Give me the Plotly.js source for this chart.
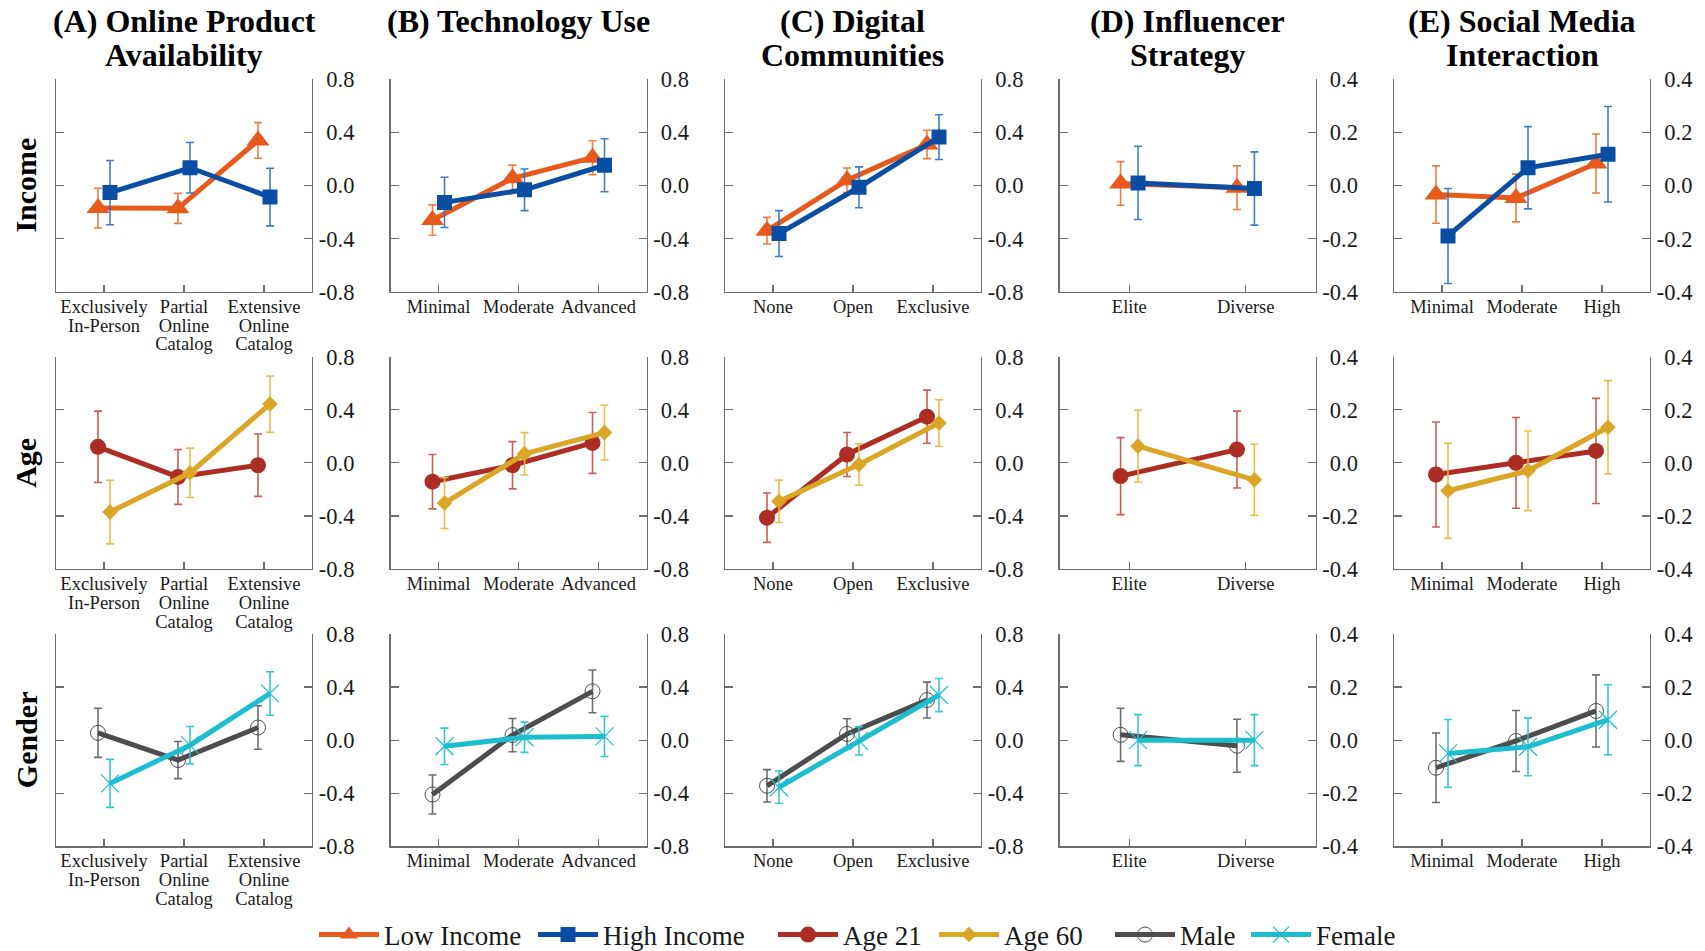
<!DOCTYPE html>
<html><head><meta charset="utf-8">
<script src="https://cdn.plot.ly/plotly-3.0.1.min.js"></script>
<style>html,body{margin:0;padding:0;background:#fff}</style>
</head><body><div id="chart" style="width:1705px;height:951px"></div>
<script>
// ---------------- DATA ----------------
const catsA = ['Exclusively<br>In-Person', 'Partial<br>Online<br>Catalog', 'Extensive<br>Online<br>Catalog'];
const catsB = ['Minimal', 'Moderate', 'Advanced'];
const catsC = ['None', 'Open', 'Exclusive'];
const catsD = ['Elite', 'Diverse'];
const catsE = ['Minimal', 'Moderate', 'High'];

const panelTitles = [['(A) Online Product', 'Availability'], ['(B) Technology Use'], ['(C) Digital', 'Communities'], ['(D) Influencer', 'Strategy'], ['(E) Social Media', 'Interaction']];
const rowLabels = ['Income', 'Age', 'Gender'];

const yTickValsWide = [-0.8, -0.4, 0, 0.4, 0.8];
const yTickTextWide = ['-0.8', '-0.4', '\u20040.0', '\u20040.4', '\u20040.8'];
const yTickValsNarrow = [-0.4, -0.2, 0, 0.2, 0.4];
const yTickTextNarrow = ['-0.4', '-0.2', '\u20040.0', '\u20040.2', '\u20040.4'];

// Income row
const A_low = [-0.17, -0.172, 0.34];   const A_lowErr = [0.15, 0.113, 0.134];
const A_high = [-0.053, 0.134, -0.087]; const A_highErr = [0.242, 0.19, 0.217];
const B_low = [-0.26, 0.055, 0.21];    const B_lowErr = [0.114, 0.099, 0.128];
const B_high = [-0.127, -0.032, 0.153]; const B_highErr = [0.189, 0.157, 0.2];
const C_low = [-0.34, 0.04, 0.31];     const C_lowErr = [0.1, 0.092, 0.107];
const C_high = [-0.362, -0.013, 0.365]; const C_highErr = [0.173, 0.154, 0.169];
const D_low = [0.008, -0.008];         const D_lowErr = [0.082, 0.082];
const D_high = [0.01, -0.011];         const D_highErr = [0.138, 0.138];
const E_low = [-0.034, -0.047, 0.083]; const E_lowErr = [0.108, 0.09, 0.111];
const E_high = [-0.19, 0.067, 0.118];  const E_highErr = [0.179, 0.155, 0.18];

// Age row
const A_age21 = [0.121, -0.106, -0.018]; const A_age21Err = [0.269, 0.207, 0.235];
const A_age60 = [-0.371, -0.075, 0.443]; const A_age60Err = [0.24, 0.186, 0.212];
const B_age21 = [-0.142, -0.018, 0.15];  const B_age21Err = [0.205, 0.178, 0.229];
const B_age60 = [-0.303, 0.068, 0.228];  const B_age60Err = [0.192, 0.16, 0.206];
const C_age21 = [-0.413, 0.063, 0.348];  const C_age21Err = [0.186, 0.166, 0.2];
const C_age60 = [-0.29, -0.013, 0.3];    const C_age60Err = [0.16, 0.156, 0.175];
const D_age21 = [-0.05, 0.05];           const D_age21Err = [0.145, 0.145];
const D_age60 = [0.063, -0.064];         const D_age60Err = [0.135, 0.134];
const E_age21 = [-0.044, 0.0, 0.045];    const E_age21Err = [0.198, 0.171, 0.198];
const E_age60 = [-0.105, -0.03, 0.134];  const E_age60Err = [0.179, 0.15, 0.176];

// Gender row
const A_male = [0.055, -0.15, 0.095];     const A_maleErr = [0.185, 0.14, 0.164];
const A_female = [-0.326, -0.038, 0.352]; const A_femaleErr = [0.181, 0.141, 0.164];
const B_male = [-0.41, 0.038, 0.368];     const B_maleErr = [0.147, 0.125, 0.161];
const B_female = [-0.046, 0.022, 0.028];  const B_femaleErr = [0.137, 0.114, 0.151];
const C_male = [-0.344, 0.047, 0.302];    const C_maleErr = [0.122, 0.114, 0.135];
const C_female = [-0.355, -0.005, 0.34];  const C_femaleErr = [0.122, 0.107, 0.125];
const D_male = [0.02, -0.021];            const D_maleErr = [0.1, 0.1];
const D_female = [0.0, 0.0];              const D_femaleErr = [0.096, 0.096];
const E_male = [-0.104, -0.003, 0.11];    const E_maleErr = [0.131, 0.115, 0.136];
const E_female = [-0.05, -0.025, 0.077];  const E_femaleErr = [0.128, 0.109, 0.132];

// ---------------- STRUCTURE ----------------
const cats = [catsA, catsB, catsC, catsD, catsE];
const narrow = [false, false, false, true, true];
const rows = [
  [ [[A_low, A_lowErr], [A_high, A_highErr]], [[B_low, B_lowErr], [B_high, B_highErr]], [[C_low, C_lowErr], [C_high, C_highErr]], [[D_low, D_lowErr], [D_high, D_highErr]], [[E_low, E_lowErr], [E_high, E_highErr]] ],
  [ [[A_age21, A_age21Err], [A_age60, A_age60Err]], [[B_age21, B_age21Err], [B_age60, B_age60Err]], [[C_age21, C_age21Err], [C_age60, C_age60Err]], [[D_age21, D_age21Err], [D_age60, D_age60Err]], [[E_age21, E_age21Err], [E_age60, E_age60Err]] ],
  [ [[A_male, A_maleErr], [A_female, A_femaleErr]], [[B_male, B_maleErr], [B_female, B_femaleErr]], [[C_male, C_maleErr], [C_female, C_femaleErr]], [[D_male, D_maleErr], [D_female, D_femaleErr]], [[E_male, E_maleErr], [E_female, E_femaleErr]] ]
];
const styles = [
  [ {name: 'Low Income', color: '#E8591C', err: 'rgba(236,110,50,0.9)', symbol: 'triangle-up', size: 20, mline: 0},
    {name: 'High Income', color: '#0A4EA3', err: 'rgba(45,110,195,0.9)', symbol: 'square', size: 15, mline: 0} ],
  [ {name: 'Age 21', color: '#AC2D24', err: 'rgba(195,75,70,0.9)', symbol: 'circle', size: 16, mline: 0},
    {name: 'Age 60', color: '#DBA526', err: 'rgba(230,185,65,0.95)', symbol: 'diamond', size: 12, mline: 0} ],
  [ {name: 'Male', color: '#4D4D4D', err: 'rgba(100,100,100,0.95)', symbol: 'circle-open', size: 15, mline: 1},
    {name: 'Female', color: '#1DBDD0', err: 'rgba(40,195,212,0.95)', symbol: 'x-thin-open', size: 18, mline: 1.2} ]
];
const dodge = 0.075;

// ---------------- LAYOUT GEOMETRY ----------------
const W = 1705, H = 951;
const colLeft = [56, 390.5, 725, 1059.5, 1394];
const colW = 256;
const rowTop = [79.4, 356.7, 634];
const rowH = 212.3;
const legendX = [314, 533, 773, 934, 1110, 1246];
const legendYpx = 935;
const xLabelSize = 18.5, xLineBase = 14.6;

const traces = [];
const layout = {
  width: W, height: H,
  margin: {l: 0, r: 0, t: 0, b: 0, autoexpand: false},
  paper_bgcolor: '#fff', plot_bgcolor: '#fff',
  font: {family: '"Liberation Serif", "Times New Roman", serif', color: '#1a1a1a'},
  annotations: [],
  showlegend: true
};

const wrapLabel = t => t.split('<br>').map(l => '<span style="font-size:' + xLabelSize + 'px">' + l + '</span>').join('<br>');

const axisColor = '#6e6e6e';
let legendIdx = 0;
for (let r = 0; r < 3; r++) {
  for (let c = 0; c < 5; c++) {
    const k = r * 5 + c + 1;
    const xa = 'xaxis' + (k === 1 ? '' : k), ya = 'yaxis' + (k === 1 ? '' : k);
    const xr = 'x' + (k === 1 ? '' : k), yr = 'y' + (k === 1 ? '' : k);
    const n = cats[c].length;
    const idx = cats[c].map((_, i) => i);
    layout[xa] = {
      domain: [colLeft[c] / W, (colLeft[c] + colW) / W],
      anchor: yr, range: [-0.6, n - 0.4],
      tickvals: idx, ticktext: cats[c].map(wrapLabel),
      showline: true, linecolor: axisColor, linewidth: 1.3,
      ticks: 'inside', ticklen: 7, tickwidth: 1.2, tickcolor: axisColor,
      ticklabelstandoff: 2,
      showgrid: false, zeroline: false, fixedrange: true,
      tickfont: {size: xLineBase, color: '#1a1a1a'}
    };
    layout[ya] = {
      domain: [1 - (rowTop[r] + rowH) / H, 1 - rowTop[r] / H],
      anchor: xr, side: 'right',
      range: narrow[c] ? [-0.4, 0.4] : [-0.8, 0.8],
      tickvals: narrow[c] ? yTickValsNarrow : yTickValsWide,
      ticktext: narrow[c] ? yTickTextNarrow : yTickTextWide,
      showline: true, mirror: 'ticks', linecolor: axisColor, linewidth: 1.3,
      ticks: 'inside', ticklen: 8, tickwidth: 1.2, tickcolor: axisColor,
      ticklabelstandoff: 1,
      showgrid: false, zeroline: false, fixedrange: true,
      tickfont: {size: 22.5, color: '#1a1a1a'}
    };
    for (let s = 0; s < 2; s++) {
      const st = styles[r][s];
      const [vals, errs] = rows[r][c][s];
      const t = {
        type: 'scatter', mode: 'lines+markers',
        x: idx.map(i => i + (s === 0 ? -dodge : dodge)),
        y: vals,
        xaxis: xr, yaxis: yr,
        name: st.name,
        line: {color: st.color, width: 5},
        marker: {symbol: st.symbol, size: st.size, color: st.color, line: {color: st.color, width: st.mline}},
        error_y: {type: 'data', array: errs, visible: true, color: st.err, thickness: 1.6, width: 4},
        showlegend: c === 0,
        hoverinfo: 'skip'
      };
      if (c === 0) {
        const lid = 'legend' + (legendIdx === 0 ? '' : (legendIdx + 1));
        t.legend = lid;
        layout[lid] = {
          orientation: 'h', xref: 'container', yref: 'container',
          x: legendX[legendIdx] / W, xanchor: 'left',
          y: 1 - legendYpx / H, yanchor: 'middle',
          font: {size: 27, color: '#1a1a1a'}, itemwidth: 60,
          bgcolor: 'rgba(0,0,0,0)', borderwidth: 0
        };
        legendIdx++;
      }
      traces.push(t);
    }
  }
}

// Panel titles
for (let c = 0; c < 5; c++) {
  const cx = (colLeft[c] + colW / 2) / W;
  panelTitles[c].forEach((line, j) => {
    layout.annotations.push({
      text: '<b>' + line + '</b>', xref: 'paper', yref: 'paper',
      x: cx, y: 1 - (21 + 34 * j) / H, xanchor: 'center', yanchor: 'middle',
      showarrow: false, font: {size: 32, color: '#000'}
    });
  });
}
// Row labels
for (let r = 0; r < 3; r++) {
  layout.annotations.push({
    text: '<b>' + rowLabels[r] + '</b>', xref: 'paper', yref: 'paper',
    x: 26 / W, y: 1 - (rowTop[r] + rowH / 2) / H, xanchor: 'center', yanchor: 'middle',
    textangle: -90, showarrow: false, font: {size: 30, color: '#000'}
  });
}

Plotly.newPlot('chart', traces, layout, {displayModeBar: false, staticPlot: true});
</script></body></html>
